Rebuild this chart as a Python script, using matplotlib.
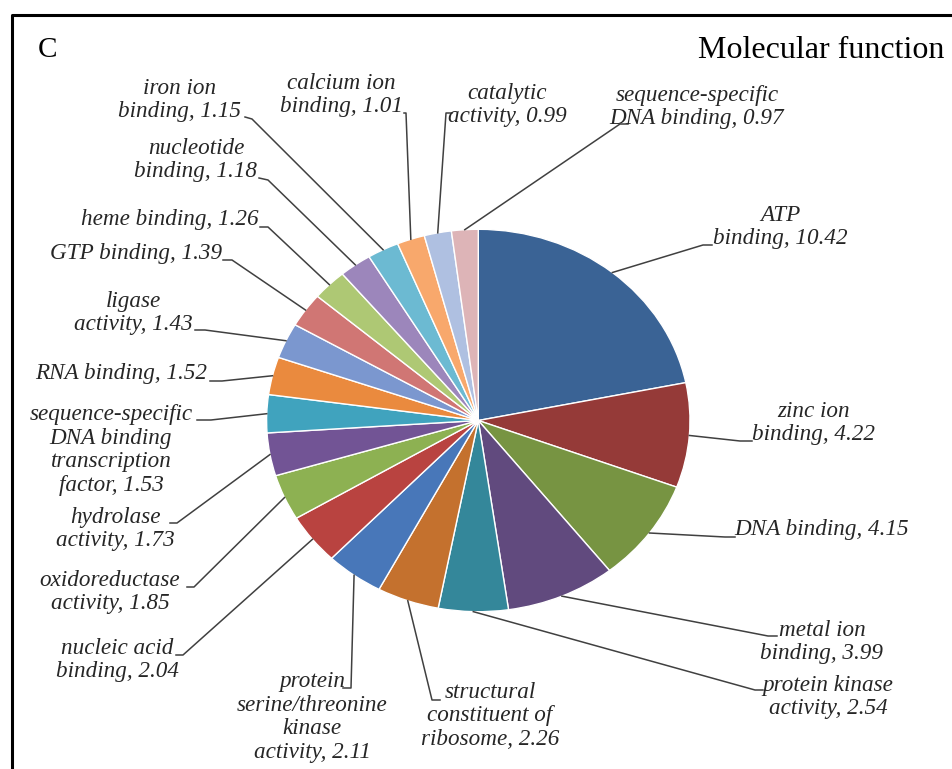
import numpy as np
import matplotlib
matplotlib.use('Agg')
from matplotlib import pyplot as plt
from matplotlib.lines import Line2D

# GO terms (molecular function) and their percentages, clockwise from 12 o'clock
labels = ['ATP\nbinding', 'zinc ion\nbinding', 'DNA binding', 'metal ion\nbinding',
          'protein kinase\nactivity', 'structural\nconstituent of\nribosome',
          'protein\nserine/threonine\nkinase\nactivity', 'nucleic acid\nbinding',
          'oxidoreductase\nactivity', 'hydrolase\nactivity',
          'sequence-specific\nDNA binding\ntranscription\nfactor', 'RNA binding',
          'ligase\nactivity', 'GTP binding', 'heme binding', 'nucleotide\nbinding',
          'iron ion\nbinding', 'calcium ion\nbinding', 'catalytic\nactivity',
          'sequence-specific\nDNA binding']
values = [10.42, 4.22, 4.15, 3.99, 2.54, 2.26, 2.11, 2.04, 1.85, 1.73,
          1.53, 1.52, 1.43, 1.39, 1.26, 1.18, 1.15, 1.01, 0.99, 0.97]

colors = ['#3A6395', '#953A38', '#779442', '#614A7E', '#34879A', '#C4712E',
          '#4877B9', '#B94340', '#8DB152', '#725495', '#40A3BE', '#EA8A3E',
          '#7B97CF', '#D07674', '#AEC874', '#9C86BB', '#6CBAD2', '#F8A86C',
          '#AFC0E1', '#DDB4B7']

W, H = 952, 769
# pie ellipse in pixels (centre, radii)
cx, cy, rx, ry = 478.3, 420.5, 211.7, 191.2

# label layout: text centre, leader bend point, hook end (pixels, y down)
layout = [
    ((780, 227), (703, 245), (712, 245)),
    ((814, 423), (740, 441), (752, 441)),
    ((822, 530), (725, 537), (735, 537)),
    ((822, 642), (768, 636), (777, 636)),
    ((828, 697), (755, 690), (763, 690)),
    ((490, 716), (432, 700), (440, 700)),
    ((312, 717), (351, 688), (343, 688)),
    ((117, 660), (183, 655), (176, 655)),
    ((110, 592), (194, 587), (187, 587)),
    ((115, 529), (177, 523), (170, 523)),
    ((111, 450), (211, 420), (197, 420)),
    ((121, 373), (222, 381), (210, 381)),
    ((133, 313), (205, 330), (195, 330)),
    ((136, 253), (232, 260), (223, 260)),
    ((170, 220), (268, 227), (260, 227)),
    ((196, 160), (268, 180), (259, 178)),
    ((180, 100), (252, 119), (245, 117)),
    ((341, 95), (406, 113), (404, 113)),
    ((507, 105), (446, 113), (452, 113)),
    ((697, 107), (620, 124), (628, 124)),
]

fig = plt.figure(figsize=(W / 100, H / 100), dpi=100)
fig.patch.set_facecolor('white')

# pie axes sized to the ellipse
pax = fig.add_axes([(cx - rx) / W, 1 - (cy + ry) / H, 2 * rx / W, 2 * ry / H])
pax.pie(values, colors=colors, startangle=90, counterclock=False,
        wedgeprops=dict(edgecolor='white', linewidth=1.0))
pax.set_aspect('auto')
pax.set_xlim(-1, 1)
pax.set_ylim(-1, 1)

# overlay in pixel coordinates for labels and leader lines
ax = fig.add_axes([0, 0, 1, 1], zorder=3)
ax.set_xlim(0, W)
ax.set_ylim(H, 0)
ax.axis('off')
ax.patch.set_alpha(0)

vals = np.array(values)
ends = 90 - np.cumsum(vals) / vals.sum() * 360
mids = ends + vals / vals.sum() * 360 / 2

for lab, v, mid, (tpos, bend, hook) in zip(labels, values, mids, layout):
    ex = cx + rx * np.cos(np.radians(mid))
    ey = cy - ry * np.sin(np.radians(mid))
    ax.plot([ex, bend[0], hook[0]], [ey, bend[1], hook[1]], color='#404040', lw=1.1)
    ax.text(tpos[0], tpos[1], '%s, %.2f' % (lab, v), ha='center', va='center',
            multialignment='center', fontsize=16.7, style='italic',
            family='Liberation Serif', color='#262626', linespacing=1.15)

ax.text(38, 50, 'C', fontsize=21, family='Liberation Serif', va='center', ha='left')
ax.text(698, 50, 'Molecular function', fontsize=23, family='Liberation Serif',
        va='center', ha='left')

# frame (cut off on the right and bottom)
ax.add_line(Line2D([11.5, 11.5, W + 5], [H + 5, 14.5, 14.5], color='black', lw=2.2))

fig.savefig('out.png', dpi=100)
